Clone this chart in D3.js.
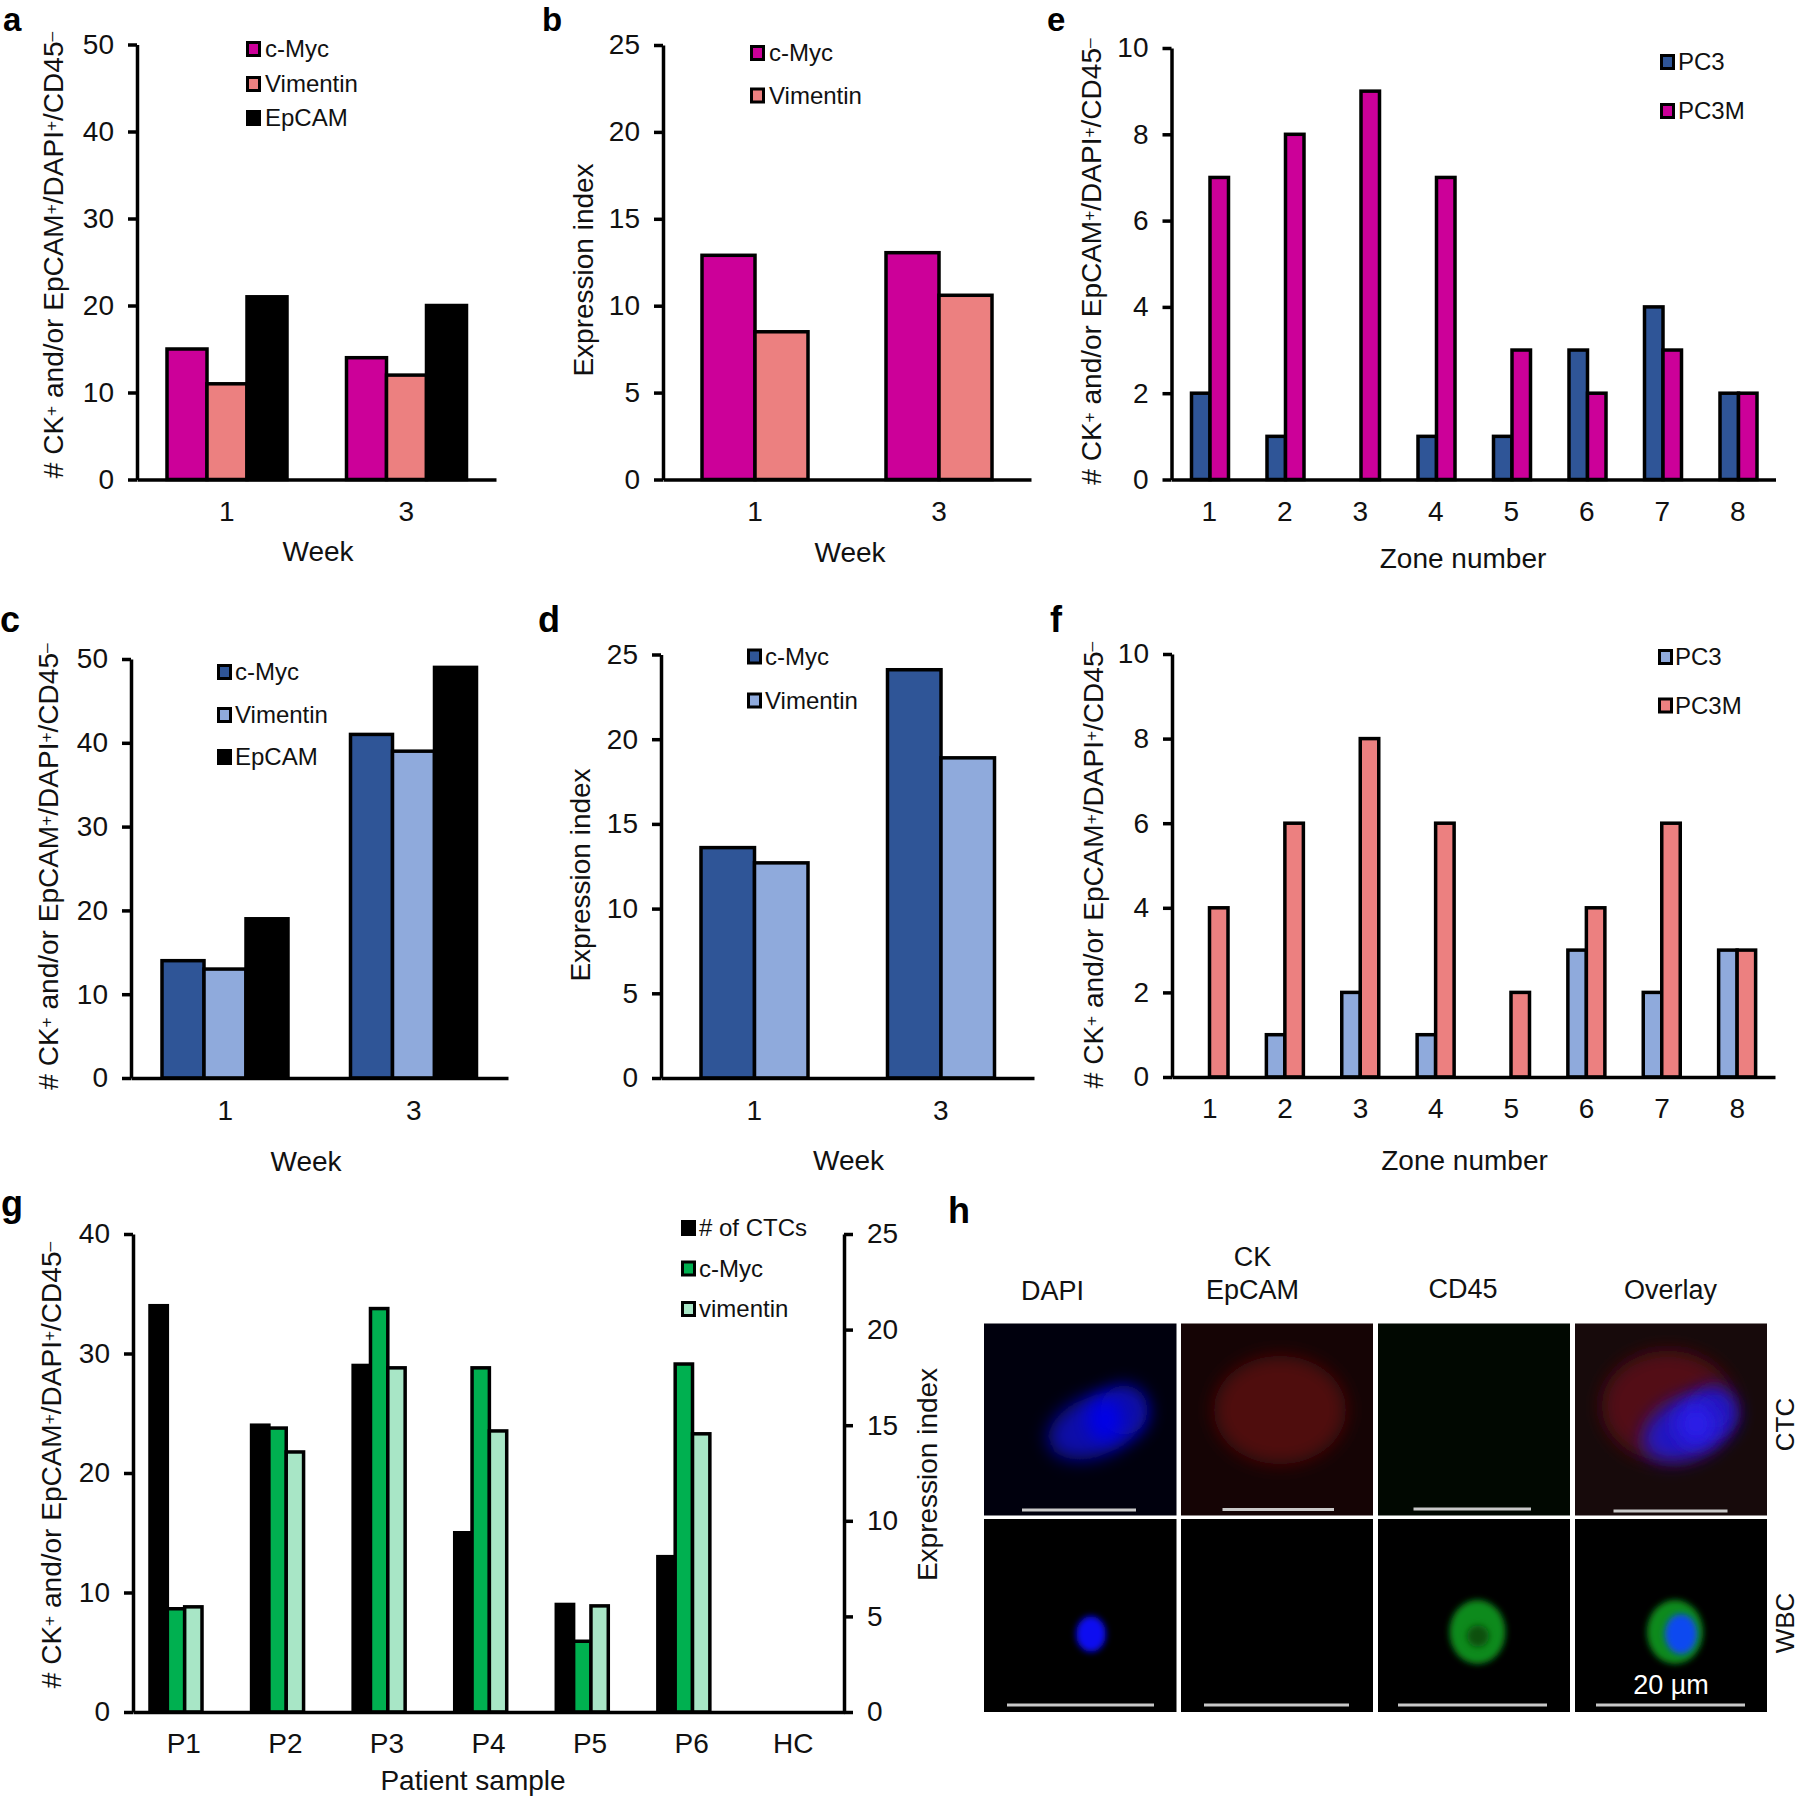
<!DOCTYPE html>
<html><head><meta charset="utf-8">
<script src="https://cdnjs.cloudflare.com/ajax/libs/d3/7.8.5/d3.min.js"></script>
<style>html,body{margin:0;padding:0;background:#fff}svg{display:block}text{font-family:"Liberation Sans",Arial,sans-serif;fill:#111}</style>
</head><body><div id="chart"></div>
<script>
// ---- data ----
const weeks = ["1","3"];
const zones = ["1","2","3","4","5","6","7","8"];
const patients = ["P1","P2","P3","P4","P5","P6","HC"];
const aMyc = [15,14], aVim = [11,12], aEp = [21,20];
const bMyc = [12.9,13.05], bVim = [8.5,10.6];
const cMyc = [14,41], cVim = [13,39], cEp = [19,49];
const dMyc = [13.6,24.1], dVim = [12.7,18.9];
const ePC3 = [2,1,0,1,1,3,4,2], ePC3M = [7,8,9,7,3,2,3,2];
const fPC3 = [0,1,2,1,0,3,2,3], fPC3M = [4,6,8,6,2,4,6,3];
const gCTC = [34,24,29,15,9,13,0];
const gMyc = [5.4,14.85,21.1,18,3.7,18.2,0];
const gVim = [5.5,13.6,18,14.7,5.55,14.55,0];
const magenta="#CC0099", salmon="#EC8080", navy="#2F5597", sky="#8FAADC", green="#00B050", mint="#A8E6C6", black="#000";
const countTitle = [["# CK"],["+",1],[" and/or EpCAM"],["+",1],["/DAPI"],["+",1],["/CD45"],["–",1]];
const exprTitle = [["Expression index"]];

const W=1800,H=1798,FS=28,SW=3.5;
const svg=d3.select("#chart").append("svg").attr("width",W).attr("height",H).attr("viewBox",[0,0,W,H]);
svg.append("rect").attr("width",W).attr("height",H).attr("fill","#fff");

function title(g,x,y,segs,size,rot){
  const t=g.append("text").attr("text-anchor","middle").attr("font-size",size)
    .attr("transform",`translate(${x},${y})`+(rot?` rotate(${rot})`:""));
  segs.forEach(s=>{const ts=t.append("tspan").text(s[0]);
    if(s[1]) ts.attr("font-size",size*0.62).attr("baseline-shift","38%");});
  return t;
}
function yAxis(g,scale,x,vals,side){
  const ax=(side==="right"?d3.axisRight:d3.axisLeft)(scale).tickValues(vals).tickSize(9).tickSizeOuter(0).tickPadding(14);
  const a=g.append("g").attr("transform",`translate(${x},0)`).call(ax);
  a.selectAll("path,line").attr("stroke","#000").attr("stroke-width",SW);
  a.selectAll("text").attr("font-size",FS).attr("font-family",null).attr("fill","#111");
}
function legend(g,items,x,ys,tx,size){
  items.forEach((it,i)=>{
    g.append("rect").attr("x",x+1.5).attr("y",ys[i]-6.5).attr("width",12).attr("height",13)
      .attr("fill",it[1]).attr("stroke","#000").attr("stroke-width",3);
    g.append("text").attr("x",tx).attr("y",ys[i]+8).attr("font-size",size).text(it[0]);
  });
}
function barPanel(o){
  const g=svg.append("g");
  const x=d3.scaleBand().domain(o.cats).range([o.x0,o.x1]);
  const y=d3.scaleLinear().domain([0,o.ymax]).range([o.y0,o.yTop]);
  const sub=d3.scaleBand().domain(o.series.map(s=>s.name)).range([o.groupL,o.groupL+o.groupW]);
  o.series.forEach(s=>{
    g.append("g").selectAll("rect").data(s.values.map((v,i)=>({v,c:o.cats[i]})).filter(d=>d.v>0)).join("rect")
      .attr("x",d=>x(d.c)+sub(s.name)).attr("width",sub.bandwidth())
      .attr("y",d=>y(d.v)).attr("height",d=>y(0)-y(d.v))
      .attr("fill",s.color).attr("stroke","#000").attr("stroke-width",SW);
  });
  yAxis(g,y,o.x0,d3.range(0,o.ymax+1e-9,o.step));
  const ax=d3.axisBottom(x).tickSize(0).tickPadding(o.tickPad);
  const a=g.append("g").attr("transform",`translate(0,${o.y0})`).call(ax);
  a.select("path").attr("stroke","#000").attr("stroke-width",SW);
  a.selectAll("text").attr("font-size",FS).attr("font-family",null).attr("fill","#111");
  title(g,o.ytX,o.ytY,o.yTitle,FS,-90);
  title(g,o.xtX,o.xtY,[[o.xTitle]],FS);
  legend(g,o.series.map(s=>[s.name,s.color]),o.legX,o.legY,o.legT,24);
  return {g,x,y};
}
const S=(name,values,color)=>({name,values,color});

barPanel({cats:weeks,x0:137,x1:496,yTop:44.5,y0:479.5,ymax:50,step:10,groupL:30,groupW:120,tickPad:22,
 series:[S("c-Myc",aMyc,magenta),S("Vimentin",aVim,salmon),S("EpCAM",aEp,black)],
 yTitle:countTitle,ytX:63,ytY:255,xTitle:"Week",xtX:318,xtY:560.5,legX:246,legY:[49,84,118],legT:265});
barPanel({cats:weeks,x0:663,x1:1031,yTop:45,y0:479.5,ymax:25,step:5,groupL:39,groupW:106,tickPad:22,
 series:[S("c-Myc",bMyc,magenta),S("Vimentin",bVim,salmon)],
 yTitle:exprTitle,ytX:593,ytY:270,xTitle:"Week",xtX:850,xtY:561.5,legX:750,legY:[53,95.5],legT:769});
barPanel({cats:zones,x0:1171.5,x1:1775.5,yTop:48,y0:479.5,ymax:10,step:2,groupL:20,groupW:37,tickPad:22,
 series:[S("PC3",ePC3,navy),S("PC3M",ePC3M,magenta)],
 yTitle:countTitle,ytX:1101,ytY:261.5,xTitle:"Zone number",xtX:1463,xtY:568,legX:1660,legY:[62,111],legT:1678});
barPanel({cats:weeks,x0:131,x1:508,yTop:659,y0:1078,ymax:50,step:10,groupL:31,groupW:126,tickPad:22,
 series:[S("c-Myc",cMyc,navy),S("Vimentin",cVim,sky),S("EpCAM",cEp,black)],
 yTitle:countTitle,ytX:58,ytY:866.5,xTitle:"Week",xtX:306,xtY:1171,legX:217,legY:[672,715,757],legT:235});
barPanel({cats:weeks,x0:661,x1:1034,yTop:654.5,y0:1078,ymax:25,step:5,groupL:40,groupW:107,tickPad:22,
 series:[S("c-Myc",dMyc,navy),S("Vimentin",dVim,sky)],
 yTitle:exprTitle,ytX:590,ytY:875,xTitle:"Week",xtX:848.5,xtY:1170,legX:747,legY:[656.5,700.5],legT:765});
barPanel({cats:zones,x0:1172,x1:1775,yTop:654,y0:1077,ymax:10,step:2,groupL:19,groupW:37,tickPad:21,
 series:[S("PC3",fPC3,sky),S("PC3M",fPC3M,salmon)],
 yTitle:countTitle,ytX:1103,ytY:865,xTitle:"Zone number",xtX:1464.5,xtY:1170,legX:1658,legY:[657,705.5],legT:1675});

// panel g — two axes
(function(){
  const g=svg.append("g");
  const x0=133,x1=844,yTop=1234,y0=1712;
  const x=d3.scaleBand().domain(patients).range([x0,x1]);
  const yL=d3.scaleLinear().domain([0,40]).range([y0,yTop]);
  const yR=d3.scaleLinear().domain([0,25]).range([y0,yTop]);
  const series=[S("# of CTCs",gCTC,black),S("c-Myc",gMyc,green),S("vimentin",gVim,mint)];
  const sub=d3.scaleBand().domain(series.map(s=>s.name)).range([17,69]);
  series.forEach((s,k)=>{
    const yy=k===0?yL:yR;
    g.append("g").selectAll("rect").data(s.values.map((v,i)=>({v,c:patients[i]})).filter(d=>d.v>0)).join("rect")
     .attr("x",d=>x(d.c)+sub(s.name)).attr("width",sub.bandwidth())
     .attr("y",d=>yy(d.v)).attr("height",d=>y0-yy(d.v))
     .attr("fill",s.color).attr("stroke","#000").attr("stroke-width",SW);
  });
  yAxis(g,yL,x0,d3.range(0,41,10));
  yAxis(g,yR,x1,d3.range(0,26,5),"right");
  const a=g.append("g").attr("transform",`translate(0,${y0})`).call(d3.axisBottom(x).tickSize(0).tickPadding(21));
  a.select("path").attr("stroke","#000").attr("stroke-width",SW);
  a.selectAll("text").attr("font-size",FS).attr("font-family",null).attr("fill","#111");
  title(g,61,1465,countTitle,FS,-90);
  title(g,937,1474.5,exprTitle,FS,-90);
  title(g,473,1790,[["Patient sample"]],FS);
  legend(g,series.map(s=>[s.name,s.color]),681,[1228,1268.5,1309],699,24);
})();

// panel letters
const letters=[["a",3,31,33],["b",542,31,33],["e",1047,31,33],["c",0,632,36],["d",538,632,36],["f",1050,632,36],["g",1,1216,36],["h",948,1223,36]];
svg.append("g").selectAll("text").data(letters).join("text").attr("x",d=>d[1]).attr("y",d=>d[2])
  .attr("font-size",d=>d[3]).attr("font-weight","bold").style("fill","#000").text(d=>d[0]);

// panel h — micrographs
const defs=svg.append("defs");
[["b3",3],["b9",9]].forEach(([id,s])=>defs.append("filter").attr("id",id)
  .attr("x","-100%").attr("y","-100%").attr("width","300%").attr("height","300%")
  .append("feGaussianBlur").attr("stdDeviation",s));
const colX=[[984,1176.5],[1181,1373],[1378,1570],[1575,1767]];
const rowY=[[1323.5,1515.5],[1519,1712]];
const bg=[["#00000d","#150405","#010801","#170a0b"],["#000","#000","#000","#000"]];
const h=svg.append("g");
rowY.forEach((r,ri)=>colX.forEach((c,ci)=>h.append("rect").attr("x",c[0]).attr("y",r[0])
  .attr("width",c[1]-c[0]).attr("height",r[1]-r[0]).attr("fill",bg[ri][ci])));
const blobs=[
 // cx, cy, rx, ry, rotation, colour, blur
 [1280,1410,66,54,0,"#4f0c10","b9"],
 [1096,1426,50,30,-22,"#0808a8","b9"],[1124,1410,24,25,0,"#0808a8","b9"],[1105,1420,18,22,0,"#0000e8","b9"],
 [1668,1406,66,55,0,"#521014","b9"],
 [1688,1428,48,30,-25,"#2018c0","b9"],[1714,1411,22,24,0,"#2018c0","b9"],[1696,1424,20,22,0,"#2a1ce8","b9"],
 [1091,1634,15,18,0,"#0808f0","b3"],
 [1477.5,1632,28,32,0,"#108a1a","b3"],[1478,1636,11,11,0,"#08500e","b3"],
 [1675,1632,28,32,0,"#108a1a","b3"],[1681,1634,16,20,0,"#0a48f0","b3"]
];
h.append("g").selectAll("ellipse").data(blobs).join("ellipse")
 .attr("cx",d=>d[0]).attr("cy",d=>d[1]).attr("rx",d=>d[2]).attr("ry",d=>d[3])
 .attr("transform",d=>`rotate(${d[4]} ${d[0]} ${d[1]})`).attr("fill",d=>d[5]).attr("filter",d=>`url(#${d[6]})`);
const bars=[[1022,1136,1510],[1222.5,1334,1509.5],[1413.5,1531,1509],[1613.5,1727.5,1511],
 [1007,1154,1705],[1204,1349,1705],[1398,1547,1705],[1596,1745,1705]];
h.append("g").selectAll("line").data(bars).join("line").attr("x1",d=>d[0]).attr("x2",d=>d[1])
 .attr("y1",d=>d[2]).attr("y2",d=>d[2]).attr("stroke","#c8c8c8").attr("stroke-width",3);
const hLabels=[["DAPI",1052.5,1299.5],["CK",1252.5,1266],["EpCAM",1252.5,1299],["CD45",1463,1298],["Overlay",1670.5,1299]];
h.append("g").selectAll("text").data(hLabels).join("text").attr("x",d=>d[1]).attr("y",d=>d[2])
 .attr("text-anchor","middle").attr("font-size",27).text(d=>d[0]);
title(h,1794,1424.5,[["CTC"]],26,-90);
title(h,1794,1623,[["WBC"]],26,-90);
h.append("text").attr("x",1671).attr("y",1694).attr("text-anchor","middle").attr("font-size",27).style("fill","#fff").text("20 µm");
</script></body></html>
